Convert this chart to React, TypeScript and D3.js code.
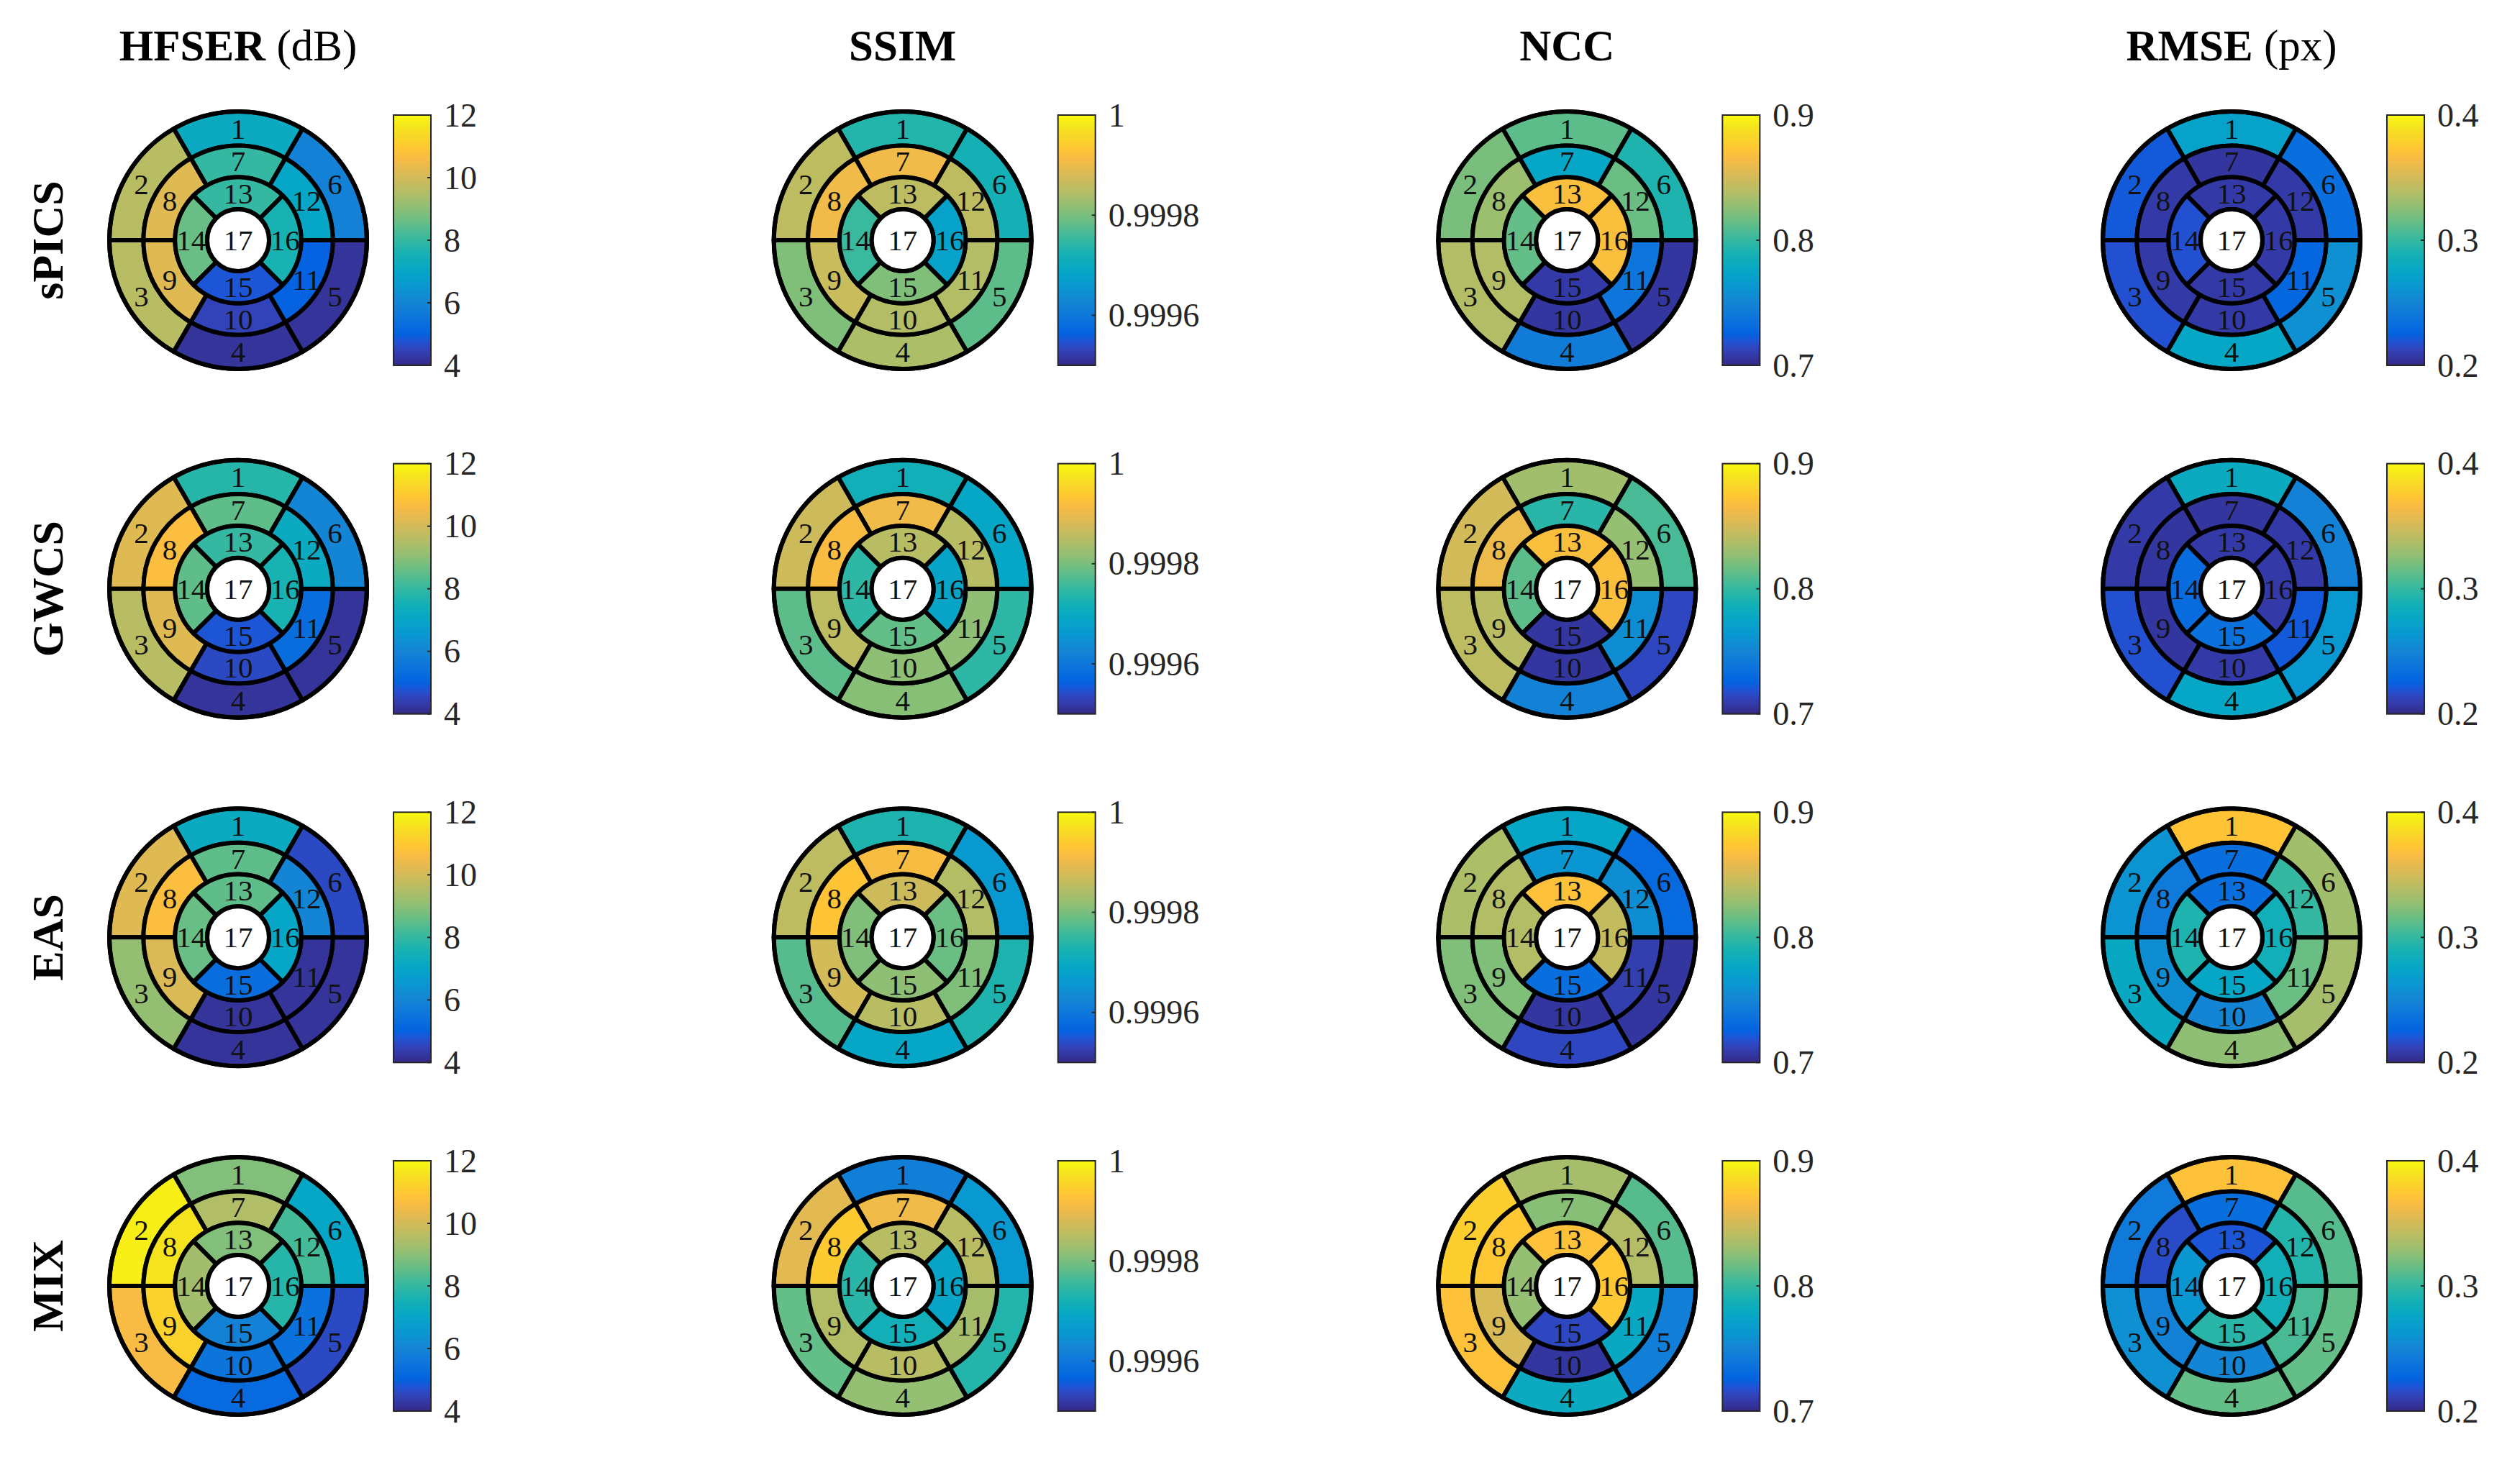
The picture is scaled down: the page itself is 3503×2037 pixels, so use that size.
import React from 'react';
import * as d3 from 'd3';

// rows and columns
const methods = ['sPICS', 'GWCS', 'EAS', 'MIX'];
const metricNames = ['HFSER', 'SSIM', 'NCC', 'RMSE'];
const metricUnits = [' (dB)', '', '', ' (px)'];

// colour limits and colorbar ticks
const hfserDomain = [4, 12];
const ssimDomain = [0.9995, 1];
const nccDomain = [0.7, 0.9];
const rmseDomain = [0.2, 0.4];
const hfserTicks = [4, 6, 8, 10, 12];
const ssimTicks = [0.9996, 0.9998, 1];
const nccTicks = [0.7, 0.8, 0.9];
const rmseTicks = [0.2, 0.3, 0.4];

// segment values 1..16 (AHA model)
const hfserSPICS = [7.2, 9.6, 9.6, 4.2, 4.2, 5.9, 8.0, 10.2, 10.2, 4.5, 5.0, 7.0, 8.0, 8.6, 4.8, 7.6];
const hfserGWCS = [7.8, 10.2, 9.6, 4.2, 4.2, 6.0, 8.5, 10.7, 10.2, 4.6, 5.3, 7.2, 8.0, 8.5, 4.8, 7.6];
const hfserEAS = [7.2, 10.2, 9.1, 4.2, 4.2, 4.6, 8.5, 10.7, 10.1, 4.2, 4.2, 6.0, 8.5, 8.6, 5.3, 7.0];
const hfserMIX = [8.9, 11.8, 10.6, 5.2, 4.6, 7.0, 9.5, 11.6, 11.2, 5.5, 5.4, 8.2, 8.9, 9.3, 5.9, 7.8];

const ssimSPICS = [0.999735, 0.999855, 0.999805, 0.99984, 0.99978, 0.99972, 0.999905, 0.999905, 0.999865, 0.999845, 0.999845, 0.999855, 0.999855, 0.999755, 0.999805, 0.99968];
const ssimGWCS = [0.999715, 0.99987, 0.99978, 0.99981, 0.999745, 0.99969, 0.999905, 0.999915, 0.999855, 0.999815, 0.999815, 0.99985, 0.99985, 0.999745, 0.999785, 0.999685];
const ssimEAS = [0.99973, 0.999855, 0.999775, 0.99969, 0.99973, 0.99966, 0.999915, 0.99993, 0.999875, 0.99985, 0.999805, 0.999845, 0.99987, 0.999805, 0.999815, 0.99979];
const ssimMIX = [0.999615, 0.99989, 0.999785, 0.99982, 0.999735, 0.99966, 0.999905, 0.99994, 0.999845, 0.99985, 0.999835, 0.99985, 0.99985, 0.99974, 0.999715, 0.999685];

const nccSPICS = [0.812, 0.82, 0.838, 0.744, 0.706, 0.792, 0.776, 0.83, 0.838, 0.706, 0.738, 0.816, 0.868, 0.814, 0.708, 0.868];
const nccGWCS = [0.832, 0.85, 0.842, 0.748, 0.714, 0.806, 0.796, 0.86, 0.84, 0.706, 0.756, 0.828, 0.868, 0.812, 0.706, 0.868];
const nccEAS = [0.776, 0.836, 0.822, 0.714, 0.706, 0.73, 0.762, 0.838, 0.822, 0.706, 0.71, 0.756, 0.87, 0.838, 0.734, 0.844];
const nccMIX = [0.834, 0.878, 0.87, 0.78, 0.746, 0.81, 0.824, 0.874, 0.852, 0.706, 0.778, 0.838, 0.87, 0.828, 0.714, 0.874];

const rmseSPICS = [0.272, 0.222, 0.218, 0.276, 0.258, 0.234, 0.206, 0.208, 0.208, 0.208, 0.228, 0.208, 0.208, 0.218, 0.208, 0.208];
const rmseGWCS = [0.28, 0.208, 0.218, 0.276, 0.264, 0.248, 0.206, 0.206, 0.206, 0.208, 0.222, 0.208, 0.208, 0.232, 0.236, 0.208];
const rmseEAS = [0.372, 0.26, 0.278, 0.326, 0.334, 0.332, 0.234, 0.242, 0.256, 0.25, 0.316, 0.3, 0.234, 0.292, 0.276, 0.286];
const rmseMIX = [0.37, 0.242, 0.258, 0.314, 0.314, 0.31, 0.234, 0.216, 0.248, 0.25, 0.306, 0.294, 0.22, 0.262, 0.296, 0.286];

// parula (sampled from the 64-entry table)
const parulaIdx = [1, 5, 7, 9, 13, 17, 21, 25, 29, 33, 37, 41, 45, 49, 53, 55, 57, 61, 64];
const parulaHex = ['#352a87', '#3243ba', '#2053d4', '#0363e1', '#0d75dc', '#1485d4', '#0998d1', '#06a7c6', '#15b1b4',
  '#38b99e', '#65be86', '#92bf73', '#b7bd64', '#d9ba56', '#f8bb44', '#ffc337', '#fcce2e', '#f5e41d', '#f9fb0e'];

const parula = d3.scaleLinear<string>()
  .domain(parulaIdx.map(i => (i - 1) / 63))
  .range(parulaHex)
  .interpolate(d3.interpolateRgb)
  .clamp(true);

const metrics = [
  { domain: hfserDomain, ticks: hfserTicks, rows: [hfserSPICS, hfserGWCS, hfserEAS, hfserMIX] },
  { domain: ssimDomain, ticks: ssimTicks, rows: [ssimSPICS, ssimGWCS, ssimEAS, ssimMIX] },
  { domain: nccDomain, ticks: nccTicks, rows: [nccSPICS, nccGWCS, nccEAS, nccMIX] },
  { domain: rmseDomain, ticks: rmseTicks, rows: [rmseSPICS, rmseGWCS, rmseEAS, rmseMIX] },
];

const W = 3503;
const H = 2037;
const FONT = '"Liberation Serif", "DejaVu Serif", serif';
const R = 179;
const LW = 6;

const colX = d3.scaleLinear().domain([0, 3]).range([331, 3102]);
const rowY = d3.scaleLinear().domain([0, 3]).range([334, 1788]);

const arc = d3.arc<any>();

function Bullseye({ cx, cy, values, domain }) {
  const norm = d3.scaleLinear().domain(domain).range([0, 1]).clamp(true);
  const rings = [
    { n: 6, r0: R * 0.735, r1: R, first: 0 },
    { n: 6, r0: R * 0.49, r1: R * 0.735, first: 6 },
    { n: 4, r0: R * 0.24, r1: R * 0.49, first: 12 },
  ];
  const segs = [];
  rings.forEach(ring => {
    const step = (2 * Math.PI) / ring.n;
    for (let i = 0; i < ring.n; i++) {
      const d = {
        innerRadius: ring.r0,
        outerRadius: ring.r1,
        startAngle: -i * step - step / 2,
        endAngle: -i * step + step / 2,
      };
      segs.push({ k: ring.first + i, d });
    }
  });
  return (
    <g transform={`translate(${cx},${cy})`}>
      {segs.map(s => (
        <path key={'p' + s.k} d={arc(s.d)} fill={parula(norm(values[s.k]))}
          stroke="#000" strokeWidth={LW} strokeLinejoin="round" />
      ))}
      <circle r={R * 0.24} fill="#fff" stroke="#000" strokeWidth={LW} />
      <circle r={R} fill="none" stroke="#000" strokeWidth={LW} />
      {segs.map(s => {
        const [x, y] = arc.centroid(s.d);
        return (
          <text key={'t' + s.k} x={x} y={y} textAnchor="middle" dominantBaseline="central"
            fontFamily={FONT} fontSize={41} fill="#111">{s.k + 1}</text>
        );
      })}
      <text x={0} y={0} textAnchor="middle" dominantBaseline="central"
        fontFamily={FONT} fontSize={41} fill="#111">17</text>
    </g>
  );
}

function Colorbar({ cx, cy, domain, ticks }) {
  const x0 = cx + 216;
  const w = 52;
  const y = d3.scaleLinear().domain(domain).range([cy + 174, cy - 174]);
  return (
    <g>
      <rect x={x0} y={cy - 174} width={w} height={348} fill="url(#parula)" stroke="#262626" strokeWidth={2} />
      {ticks.map(t => (
        <g key={t}>
          <line x1={x0 + w - 5} x2={x0 + w} y1={y(t)} y2={y(t)} stroke="#262626" strokeWidth={2} />
          <text x={x0 + w + 18} y={y(t)} dominantBaseline="central" fontFamily={FONT}
            fontSize={46} fill="#262626">{String(t)}</text>
        </g>
      ))}
    </g>
  );
}

export default function App() {
  return (
    <svg width={W} height={H} style={{ position: 'absolute', left: 0, top: 0, background: '#fff' }}>
      <defs>
        <linearGradient id="parula" x1="0" y1="1" x2="0" y2="0">
          {parulaIdx.map((idx, i) => (
            <stop key={idx} offset={(idx - 1) / 63} stopColor={parulaHex[i]} />
          ))}
        </linearGradient>
      </defs>
      <rect width={W} height={H} fill="#fff" />
      {metricNames.map((m, j) => (
        <text key={m} x={colX(j)} y={84} textAnchor="middle" fontFamily={FONT} fontSize={61} fill="#000">
          <tspan fontWeight="bold">{m}</tspan>
          {metricUnits[j] && <tspan>{metricUnits[j]}</tspan>}
        </text>
      ))}
      {methods.map((name, i) => (
        <text key={name} transform={`translate(66,${rowY(i)}) rotate(-90)`} textAnchor="middle"
          dominantBaseline="central" fontFamily={FONT} fontSize={62} fontWeight="bold" fill="#000">{name}</text>
      ))}
      {metrics.map((m, j) =>
        methods.map((name, i) => (
          <g key={j + '-' + i}>
            <Bullseye cx={colX(j)} cy={rowY(i)} values={m.rows[i]} domain={m.domain} />
            <Colorbar cx={colX(j)} cy={rowY(i)} domain={m.domain} ticks={m.ticks} />
          </g>
        ))
      )}
    </svg>
  );
}
